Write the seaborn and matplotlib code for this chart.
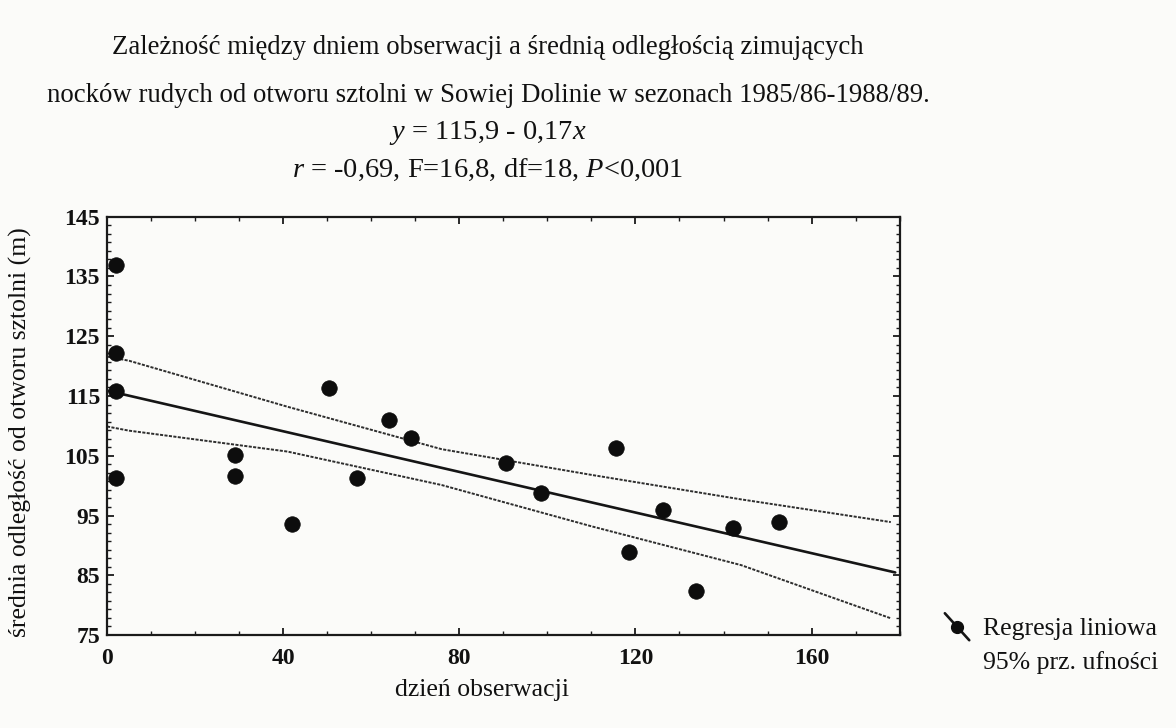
import numpy as np
import pandas as pd
import matplotlib
matplotlib.use("Agg")
import matplotlib.pyplot as plt
from matplotlib.lines import Line2D
from matplotlib.legend_handler import HandlerBase
from matplotlib.ticker import AutoMinorLocator, FixedLocator
import seaborn as sns

# Observation day vs. mean distance from the adit entrance
day = [2, 2, 2, 2, 29, 29, 41.9, 50.5, 56.8, 64.0, 69.0, 90.7, 98.6,
       115.6, 126.2, 118.6, 142.1, 133.7, 152.7]
distance = [136.9, 122.2, 115.8, 101.3, 105.1, 101.6, 93.6, 116.3, 101.3,
            111.0, 108.0, 103.8, 98.8, 106.3, 95.9, 88.9, 92.9, 82.4, 93.9]

# Fitted regression: y = 115.9 - 0.17x
intercept = 115.9
slope = -0.17
fit_range = [0, 179]

# 95% confidence band around the regression line
ci_day = [0, 5, 41, 76, 110, 144, 178]
ci_upper = [121.6, 120.9, 113.2, 106.1, 101.8, 97.7, 93.9]
ci_lower = [109.9, 109.2, 105.7, 100.1, 93.2, 86.7, 77.8]

x_ticks = [0, 40, 80, 120, 160]
y_ticks = [75, 85, 95, 105, 115, 125, 135, 145]

title_lines = [
    "Zależność między dniem obserwacji a średnią odległością zimujących",
    "nocków rudych od otworu sztolni w Sowiej Dolinie w sezonach 1985/86-1988/89.",
]
equation = "$y$ = 115,9 - 0,17$x$"
stats_line = "$r$ = -0,69, F=16,8, df=18, $P$<0,001"
x_label = "dzień obserwacji"
y_label = "średnia odległość od otworu sztolni (m)"
legend_labels = ["Regresja liniowa", "95% prz. ufności"]

sns.set_theme(style="ticks")
plt.rcParams["font.family"] = ["Liberation Serif", "DejaVu Serif"]
plt.rcParams["mathtext.fontset"] = "custom"
plt.rcParams["mathtext.rm"] = "Liberation Serif"
plt.rcParams["mathtext.it"] = "Liberation Serif:italic"

ink = "#111111"
paper = "#fbfbf9"
fig = plt.figure(figsize=(11.76, 7.28), dpi=100, facecolor=paper)
ax = fig.add_axes([0.091, 0.1277, 0.674, 0.5746])
ax.set_facecolor(paper)

scatter_df = pd.DataFrame({"day": day, "distance": distance})
fit_x = np.array(fit_range, dtype=float)
fit_df = pd.DataFrame({"day": fit_x, "distance": intercept + slope * fit_x})
band_df = pd.DataFrame({"day": ci_day, "upper": ci_upper, "lower": ci_lower})

band_style = dict(color="#2e2e2e", linewidth=1.4, linestyle=(0, (1.6, 0.7)))
sns.lineplot(data=band_df, x="day", y="upper", ax=ax, **band_style)
sns.lineplot(data=band_df, x="day", y="lower", ax=ax, **band_style)
sns.lineplot(data=fit_df, x="day", y="distance", ax=ax, color="#151515",
             linewidth=1.9)
sns.scatterplot(data=scatter_df, x="day", y="distance", ax=ax, s=125,
                color="#0d0d0d", edgecolor="#0d0d0d", linewidth=0.5, zorder=5)

ax.set_xlim(0, 180)
ax.set_ylim(75, 145)
ax.xaxis.set_major_locator(FixedLocator(x_ticks))
ax.yaxis.set_major_locator(FixedLocator(y_ticks))
ax.xaxis.set_minor_locator(AutoMinorLocator(4))
ax.yaxis.set_minor_locator(AutoMinorLocator(7))
ax.tick_params(which="both", direction="in", top=True, right=True,
               color="#1a1a1a", labelcolor=ink)
ax.tick_params(which="major", length=5, width=1.3, labelsize=17)
ax.tick_params(which="minor", length=3, width=1.0)
ax.tick_params(axis="x", pad=9)
ax.tick_params(axis="y", pad=5)
for lab in ax.get_xticklabels() + ax.get_yticklabels():
    lab.set_fontweight("bold")
for sp in ax.spines.values():
    sp.set_linewidth(1.6)
    sp.set_color("#1a1a1a")
ax.set_xlabel("")
ax.set_ylabel("")

# Titles and statistics above the plot
cx = 488 / 1176
fig.text(cx, 1 - 47 / 728, title_lines[0], ha="center", va="center",
         fontsize=19.3, color=ink)
fig.text(cx, 1 - 95 / 728, title_lines[1], ha="center", va="center",
         fontsize=19.3, color=ink)
fig.text(cx, 1 - 133 / 728, equation, ha="center", va="center",
         fontsize=20.5, color=ink)
fig.text(cx, 1 - 170 / 728, stats_line, ha="center", va="center",
         fontsize=20.5, color=ink)

fig.text(482 / 1176, 1 - 690 / 728, x_label, ha="center", va="center",
         fontsize=18.5, color=ink)
fig.text(20 / 1176, 1 - 432 / 728, y_label, ha="center", va="center",
         rotation=90, fontsize=18.5, color=ink)


class DiagonalHandler(HandlerBase):
    """Legend key: a short falling line with a dot in the middle."""

    def create_artists(self, legend, orig_handle, xdescent, ydescent,
                       width, height, fontsize, trans):
        x0, y0 = -xdescent, -ydescent
        seg = Line2D([x0, x0 + width], [y0 + height * 1.2, y0 - height * 0.3],
                     color="#151515", linewidth=1.9, transform=trans)
        dot = Line2D([x0 + width * 0.5], [y0 + height * 0.45], marker="o",
                     markersize=8.5, color="#0d0d0d", linestyle="none",
                     transform=trans)
        return [seg, dot]


fit_handle = Line2D([], [], color="#151515", marker="o")
band_handle = Line2D([], [], linestyle="none")
fig.legend([fit_handle, band_handle], legend_labels,
           handler_map={fit_handle: DiagonalHandler()},
           loc="upper left", bbox_to_anchor=(932 / 1176, 1 - 604 / 728),
           frameon=False, fontsize=18.5, handlelength=0.95,
           handletextpad=0.55, labelspacing=0.45, borderpad=0)
for txt in fig.legends[0].get_texts():
    txt.set_color(ink)

fig.savefig("out.png", dpi=100, facecolor=paper)
